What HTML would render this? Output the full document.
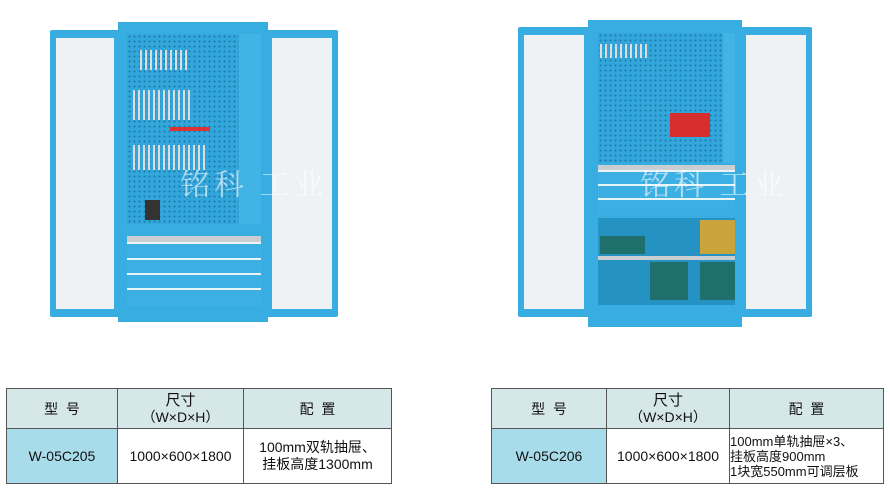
<!DOCTYPE html>
<html><head><meta charset="utf-8"><style>
body{margin:0;width:890px;height:495px;background:#fff;position:relative;overflow:hidden;font-family:"Liberation Sans","Noto Sans CJK SC",sans-serif}
.a{position:absolute;box-sizing:border-box}
.door{background:#38ade2;border-radius:2px}
.glass{background:#eef2f4;position:absolute;left:6px;right:6px;top:8px;bottom:8px}
.peg{background-color:#33a6dc;background-image:radial-gradient(#1f7aa8 0.8px,transparent 1.2px);background-size:5px 5px}
.drw{position:absolute;left:0;right:0;background:#3cb0e3;border-top:2px solid #e8f4fa}
table{border-collapse:collapse;position:absolute;font-size:14px;color:#111}
td{border:1px solid #555;text-align:center;padding:0}
.h{background:#d6e7ea}
.m{background:#a9dcea}
.wm{position:absolute;color:rgba(255,255,255,.6);font-size:30px;font-family:"Noto Serif CJK SC",serif;letter-spacing:4px}
</style></head><body>

<!-- left cabinet -->
<div class="a door" style="left:50px;top:30px;width:70px;height:287px"><div class="glass"></div></div>
<div class="a door" style="left:266px;top:30px;width:72px;height:287px"><div class="glass"></div></div>
<div class="a" style="left:118px;top:22px;width:150px;height:300px;background:#38ade2"></div>
<div class="a peg" style="left:127px;top:34px;width:112px;height:190px"></div>
<div class="a" style="left:239px;top:34px;width:22px;height:190px;background:#42b3e5"></div>
<div class="a" style="left:127px;top:236px;width:134px;height:6px;background:#c8ced2"></div>
<div class="a" style="left:127px;top:242px;width:134px;height:64px;background:#38ade2">
 <div class="drw" style="top:0;height:16px"></div><div class="drw" style="top:16px;height:15px"></div><div class="drw" style="top:31px;height:15px"></div><div class="drw" style="top:46px;height:16px"></div>
</div>
<div class="a" style="left:140px;top:50px;width:50px;height:20px;background:repeating-linear-gradient(90deg,#ddd 0 2px,transparent 2px 5px)"></div>
<div class="a" style="left:133px;top:90px;width:60px;height:30px;background:repeating-linear-gradient(90deg,#ddd 0 2px,transparent 2px 5px)"></div>
<div class="a" style="left:133px;top:145px;width:75px;height:25px;background:repeating-linear-gradient(90deg,#ddd 0 2px,transparent 2px 5px)"></div>
<div class="a" style="left:170px;top:127px;width:40px;height:4px;background:#d33"></div>
<div class="a" style="left:145px;top:200px;width:15px;height:20px;background:#333"></div>
<div class="wm" style="left:180px;top:160px">铭科 工业</div>

<!-- right cabinet -->
<div class="a door" style="left:518px;top:27px;width:72px;height:290px"><div class="glass"></div></div>
<div class="a door" style="left:740px;top:27px;width:72px;height:290px"><div class="glass"></div></div>
<div class="a" style="left:588px;top:20px;width:154px;height:307px;background:#38ade2"></div>
<div class="a peg" style="left:598px;top:33px;width:125px;height:130px"></div>
<div class="a" style="left:723px;top:33px;width:12px;height:130px;background:#42b3e5"></div>
<div class="a" style="left:670px;top:113px;width:40px;height:24px;background:#d62d2d"></div>
<div class="a" style="left:600px;top:44px;width:50px;height:14px;background:repeating-linear-gradient(90deg,#ddd 0 2px,transparent 2px 5px)"></div>
<div class="a" style="left:598px;top:165px;width:137px;height:5px;background:#c8ced2"></div>
<div class="a" style="left:598px;top:170px;width:137px;height:45px;background:#38ade2">
 <div class="drw" style="top:0;height:14px"></div><div class="drw" style="top:14px;height:14px"></div><div class="drw" style="top:28px;height:15px"></div>
</div>
<div class="a" style="left:598px;top:218px;width:137px;height:87px;background:#2592c4"></div>
<div class="a" style="left:598px;top:256px;width:137px;height:4px;background:#c8ced2"></div>
<div class="a" style="left:600px;top:236px;width:45px;height:18px;background:#1f6f6c"></div>
<div class="a" style="left:700px;top:220px;width:35px;height:34px;background:#c9a43a"></div>
<div class="a" style="left:650px;top:262px;width:38px;height:38px;background:#1f6f6c"></div>
<div class="a" style="left:700px;top:262px;width:35px;height:38px;background:#1f6f6c"></div>
<div class="wm" style="left:640px;top:160px">铭科 工业</div>

<table style="left:6px;top:388px;width:386px;height:96px">
<tr style="height:40px"><td class="h" style="width:110px">型&nbsp;&nbsp;号</td><td class="h" style="width:125px;line-height:17px"><span style="font-size:15px">尺寸</span><br>（W×D×H）</td><td class="h">配&nbsp;&nbsp;置</td></tr>
<tr><td class="m">W-05C205</td><td>1000×600×1800</td><td style="line-height:17px">100mm双轨抽屉、<br>挂板高度1300mm</td></tr>
</table>

<table style="left:491px;top:388px;width:393px;height:96px">
<tr style="height:40px"><td class="h" style="width:114px">型&nbsp;&nbsp;号</td><td class="h" style="width:122px;line-height:17px"><span style="font-size:15px">尺寸</span><br>（W×D×H）</td><td class="h">配&nbsp;&nbsp;置</td></tr>
<tr><td class="m">W-05C206</td><td>1000×600×1800</td><td style="text-align:left;line-height:15px;white-space:nowrap;font-size:13px">100mm单轨抽屉×3、<br>挂板高度900mm<br>1块宽550mm可调层板</td></tr>
</table>
</body></html>
